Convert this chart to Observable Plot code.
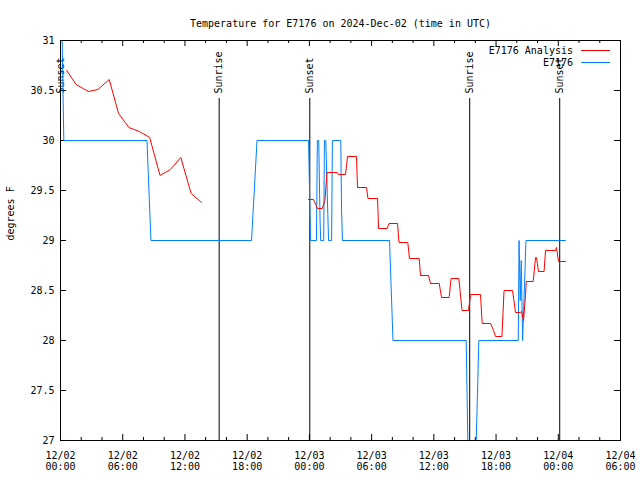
<!DOCTYPE html>
<html><head><meta charset="utf-8">
<script src="https://cdn.jsdelivr.net/npm/d3@7"></script>
<script src="https://cdn.jsdelivr.net/npm/@observablehq/plot@0.6"></script>
<style>body{margin:0;background:#fff} svg{display:block}</style>
</head><body><div id="chart"></div>
<script>
// hours since 2024-12-02 00:00 UTC
const START = Date.UTC(2024, 11, 2, 0, 0);
const title = "Temperature for E7176 on 2024-Dec-02 (time in UTC)";
const yLabel = "degrees F";
const seriesNames = ["E7176 Analysis", "E7176"];
const seriesColors = ["#ff0000", "#0080ff"];

const obsHours = [0.0, 0.32, 8.34, 8.72, 18.42, 18.95, 23.92, 24.11, 24.68, 24.77, 24.90, 25.03, 25.09, 25.38, 25.45, 25.58, 25.85, 26.14, 26.22, 27.03, 27.10, 27.19, 31.73, 32.06, 39.12, 39.28, 40.09, 40.34, 44.14, 44.22, 44.33, 44.43, 44.56, 44.79, 44.88, 48.70];
const obsTemps = [32.0, 30.0, 30.0, 29.0, 29.0, 30.0, 30.0, 29.0, 29.0, 30.0, 30.0, 29.2, 29.0, 29.0, 30.0, 30.0, 29.0, 29.0, 30.0, 30.0, 29.3, 29.0, 29.0, 28.0, 28.0, 27.0, 27.0, 28.0, 28.0, 29.0, 28.4, 28.8, 28.0, 28.7, 29.0, 29.0];

const anaHours1 = [0.6, 1.5, 2.7, 3.6, 4.7, 5.6, 6.6, 7.6, 8.6, 9.6, 10.6, 11.6, 12.6, 13.6];
const anaTemps1 = [30.70, 30.56, 30.49, 30.51, 30.61, 30.27, 30.13, 30.09, 30.03, 29.65, 29.71, 29.83, 29.47, 29.38];

const anaHours2 = [23.92, 24.40, 24.78, 25.24, 25.50, 25.70, 26.68, 26.81, 27.48, 27.68, 28.54, 28.64, 29.51, 29.65, 30.57, 30.67, 31.49, 31.68, 32.50, 32.64, 33.49, 33.65, 34.59, 34.72, 35.49, 35.68, 36.52, 36.74, 37.48, 37.66, 38.41, 38.72, 39.34, 39.54, 40.50, 40.66, 41.47, 41.76, 41.95, 42.57, 42.77, 43.59, 43.88, 44.33, 44.46, 44.65, 44.84, 44.91, 45.58, 45.81, 45.90, 46.09, 46.63, 46.77, 47.73, 47.83, 48.02, 48.70];
const anaTemps2 = [29.41, 29.41, 29.32, 29.32, 29.40, 29.68, 29.68, 29.66, 29.66, 29.84, 29.84, 29.53, 29.53, 29.42, 29.42, 29.12, 29.12, 29.17, 29.17, 28.98, 28.98, 28.82, 28.82, 28.65, 28.65, 28.57, 28.57, 28.43, 28.43, 28.62, 28.62, 28.30, 28.30, 28.46, 28.46, 28.17, 28.17, 28.10, 28.04, 28.04, 28.50, 28.50, 28.28, 28.28, 28.29, 28.20, 28.45, 28.59, 28.59, 28.83, 28.83, 28.69, 28.69, 28.90, 28.90, 28.93, 28.79, 28.79];

const eventNames = ["Sunset", "Sunrise", "Sunset", "Sunrise", "Sunset"];
const eventHours = [0.0, 15.30, 24.04, 39.46, 48.14];
const eventLineTop = 30.42;

const yTicks = [27, 27.5, 28, 28.5, 29, 29.5, 30, 30.5, 31];
const xMajorHours = [0, 6, 12, 18, 24, 30, 36, 42, 48, 54];
const xMinorHours = [2, 4, 8, 10, 14, 16, 20, 22, 26, 28, 32, 34, 38, 40, 44, 46, 50, 52];

const toDate = h => new Date(START + h * 3600e3);
const obs = obsHours.map((h, i) => ({t: toDate(h), v: obsTemps[i]}));
const ana1 = anaHours1.map((h, i) => ({t: toDate(h), v: anaTemps1[i]}));
const ana2 = anaHours2.map((h, i) => ({t: toDate(h), v: anaTemps2[i]}));
const events = eventHours.map((h, i) => ({t: toDate(h), name: eventNames[i]}));
const majors = xMajorHours.map(toDate);
const minors = xMinorHours.map(toDate);

const W = 640, H = 480, mL = 60, mR = 20, mT = 40, mB = 40;
const ph = H - mT - mB, pw = W - mL - mR;

const svg = Plot.plot({
  width: W, height: H, marginLeft: mL, marginRight: mR, marginTop: mT, marginBottom: mB,
  style: {fontFamily: "'DejaVu Sans Mono', monospace", fontSize: "10px", background: "white", color: "black"},
  x: {type: "utc", domain: [toDate(0), toDate(54)]},
  y: {domain: [27, 31]},
  marks: [
    Plot.tickX(majors, {x: d => d, insetTop: ph - 6, stroke: "black"}),
    Plot.tickX(majors, {x: d => d, insetBottom: ph - 6, stroke: "black"}),
    Plot.tickX(minors, {x: d => d, insetTop: ph - 3, stroke: "black"}),
    Plot.tickX(minors, {x: d => d, insetBottom: ph - 3, stroke: "black"}),
    Plot.tickY(yTicks, {y: d => d, insetRight: pw - 6, stroke: "black"}),
    Plot.tickY(yTicks, {y: d => d, insetLeft: pw - 6, stroke: "black"}),
    Plot.axisX(majors, {tickSize: 0, tickPadding: 10, tickFormat: d3.utcFormat("%m/%d\n%H:%M"), label: null, lineHeight: 1.15}),
    Plot.axisY(yTicks, {tickSize: 0, tickPadding: 6, tickFormat: d => String(d), label: null}),
    Plot.ruleX(events, {x: "t", y1: 27, y2: eventLineTop, stroke: "black"}),
    Plot.text(events, {x: "t", y: 30.47, text: "name", rotate: -90, textAnchor: "start", fill: "black"}),
    Plot.line(obs, {x: "t", y: "v", stroke: seriesColors[1], strokeWidth: 1, clip: true}),
    Plot.line(ana1, {x: "t", y: "v", stroke: seriesColors[0], strokeWidth: 1, clip: true}),
    Plot.line(ana2, {x: "t", y: "v", stroke: seriesColors[0], strokeWidth: 1, clip: true}),
    Plot.frame({stroke: "black"}),
    Plot.text([title], {text: d => d, frameAnchor: "top", dy: -21, fill: "black"}),
    Plot.text([yLabel], {text: d => d, frameAnchor: "left", dx: -50, rotate: -90, fill: "black"})
  ]
});

// legend (inside plot, top right)
const lg = d3.select(svg).append("g").attr("font-family", "'DejaVu Sans Mono', monospace").attr("font-size", 10);
seriesNames.forEach((name, i) => {
  const y = 50 + i * 12;
  lg.append("text").attr("x", 573).attr("y", y).attr("dy", "0.35em").attr("text-anchor", "end").attr("fill", "black").text(name);
  lg.append("line").attr("x1", 581).attr("x2", 610).attr("y1", y + 0.5).attr("y2", y + 0.5).attr("stroke", seriesColors[i]).attr("stroke-width", 1);
});

document.getElementById("chart").appendChild(svg);
</script>
</body></html>
